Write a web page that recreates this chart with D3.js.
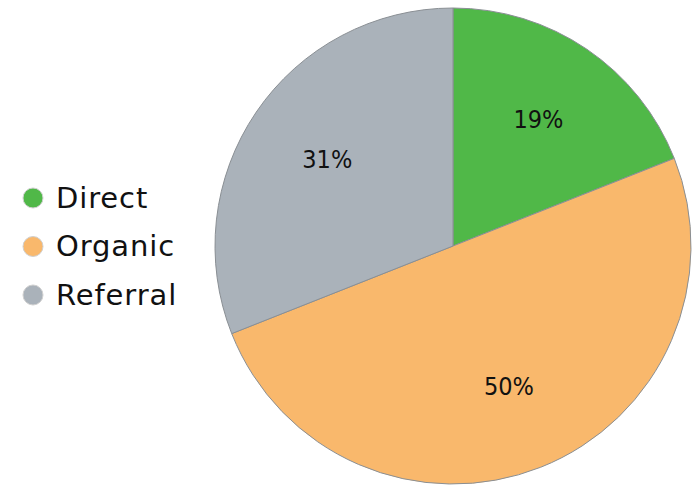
<!DOCTYPE html>
<html><head><meta charset="utf-8">
<script src="https://cdn.jsdelivr.net/npm/d3@7/dist/d3.min.js"></script>
<style>body{margin:0;background:#fff;}svg{display:block;}</style>
</head><body>
<svg id="chart" width="695" height="485"></svg>
<script>
const categories = ["Direct", "Organic", "Referral"];
const values = [19, 50, 31];
const colors = ["#50b848", "#f9b86c", "#aab2ba"];

const svg = d3.select("#chart");
const cx = 453, cy = 246, R = 238, labelR = 152;
const data = categories.map((c, i) => ({cat: c, value: values[i], color: colors[i]}));
const pie = d3.pie().sort(null).value(d => d.value);
const arcs = pie(data);
const arc = d3.arc().innerRadius(0).outerRadius(R);
const labelArc = d3.arc().innerRadius(labelR).outerRadius(labelR);
const total = d3.sum(values);

const g = svg.append("g").attr("transform", `translate(${cx},${cy})`);
g.selectAll("path").data(arcs).join("path")
  .attr("d", arc).attr("fill", d => d.data.color)
  .attr("stroke", "#8a8f94").attr("stroke-width", 1);
g.selectAll("text").data(arcs).join("text")
  .attr("transform", d => `translate(${labelArc.centroid(d)})`)
  .attr("text-anchor", "middle").attr("dy", "0.3em")
  .attr("font-family", "DejaVu Sans Condensed, DejaVu Sans").attr("font-size", 25)
  .attr("fill", "#111")
  .text(d => Math.round(d.data.value / total * 100) + "%");

const legendY = d3.scalePoint().domain(categories).range([198, 295]);
const lg = svg.append("g");
lg.selectAll("circle").data(data).join("circle")
  .attr("cx", 33).attr("cy", d => legendY(d.cat)).attr("r", 10)
  .attr("fill", d => d.color).attr("stroke", "#d0d0d0").attr("stroke-width", 1);
lg.selectAll("text").data(data).join("text")
  .attr("x", 56).attr("y", d => legendY(d.cat)).attr("dy", "0.34em")
  .attr("font-family", "DejaVu Sans").attr("font-size", 29).attr("fill", "#111")
  .attr("letter-spacing", "0.9px")
  .text(d => d.cat);
</script>
</body></html>
